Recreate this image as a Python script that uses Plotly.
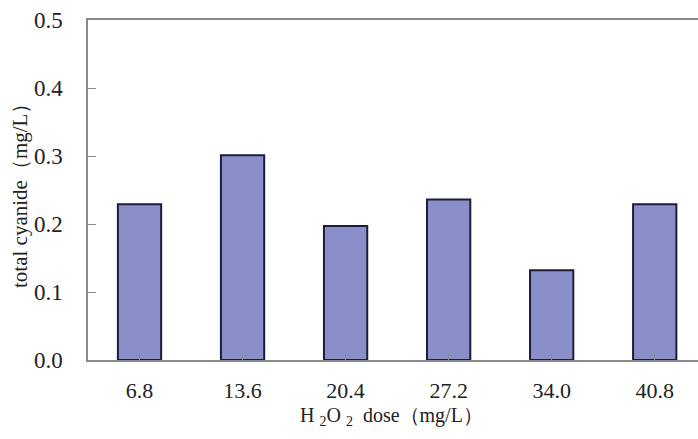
import plotly.graph_objects as go

doses = ["6.8", "13.6", "20.4", "27.2", "34.0", "40.8"]
cyanide = [0.229, 0.301, 0.197, 0.236, 0.132, 0.229]
y_ticks = [0.0, 0.1, 0.2, 0.3, 0.4, 0.5]
y_tick_text = ["0.0", "0.1", "0.2", "0.3", "0.4", "0.5"]
x_title = "H&nbsp;<sub>2</sub>O&nbsp;<sub>2</sub>&nbsp;&nbsp;dose（mg/L）"
y_title = "total cyanide（mg/L）"

font_family = "Liberation Serif, Times New Roman, serif"
axis_color = "#8a8a8a"
text_color = "#222222"

fig = go.Figure()
fig.add_trace(go.Bar(
    x=list(range(len(doses))),
    y=cyanide,
    marker=dict(color="#8b8fc9", line=dict(color="#1c1c3c", width=2)),
    width=0.42,
))

fig.update_layout(
    width=698, height=439,
    margin=dict(l=88, r=0, t=20, b=79),
    paper_bgcolor="white", plot_bgcolor="white",
    showlegend=False,
    font=dict(family=font_family, size=23, color=text_color),
    xaxis=dict(
        range=[-0.5, 5.42],
        tickmode="array",
        tickvals=list(range(len(doses))),
        ticktext=doses,
        tickson="boundaries",
        ticks="inside", ticklen=7, tickcolor=axis_color, tickwidth=1,
        showline=True, linecolor=axis_color, linewidth=1.5, mirror=True,
        showgrid=False, zeroline=False,
        tickfont=dict(size=22),
        ticklabelstandoff=10,
    ),
    yaxis=dict(
        range=[0, 0.5],
        tickmode="array",
        tickvals=y_ticks,
        ticktext=y_tick_text,
        ticks="inside", ticklen=8, tickcolor=axis_color, tickwidth=1,
        showline=True, linecolor=axis_color, linewidth=1.5,
        showgrid=False, zeroline=False,
        ticklabelstandoff=19,
    ),
    annotations=[
        dict(text=x_title, xref="paper", yref="paper", x=0.498, y=-0.165,
             xanchor="center", yanchor="middle", showarrow=False,
             font=dict(size=20, color=text_color)),
        dict(text=y_title, xref="paper", yref="paper", x=-0.1115, y=0.5,
             xanchor="center", yanchor="middle", showarrow=False, textangle=-90,
             font=dict(size=21, color=text_color)),
    ],
)

fig.write_html("out.html")
